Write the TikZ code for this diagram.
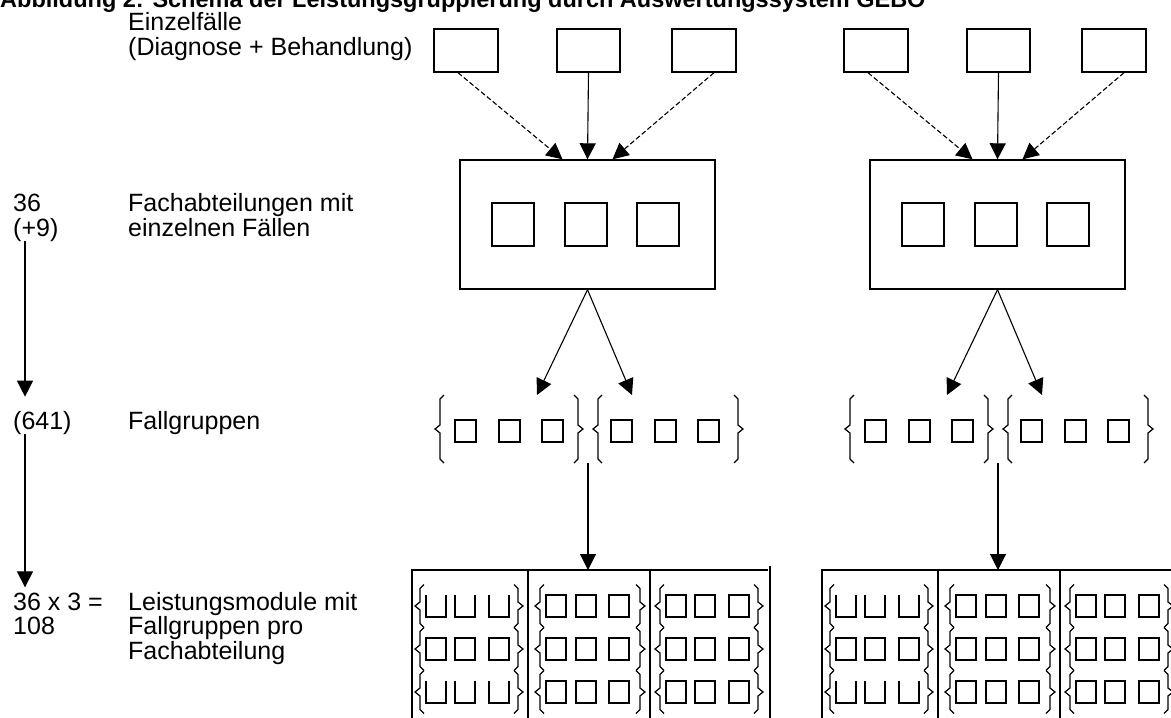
\documentclass[tikz,border=0pt]{standalone}
\usepackage{fontspec}
\setmainfont{Liberation Sans}
\usetikzlibrary{arrows.meta,calc}

% small curly braces drawn as polylines: tip x, top y, bottom y
\newcommand\LBr[3]{\draw[br] (#1+9,#2) -- (#1+5,#2+4) -- (#1+5,{(#2+#3)/2-4}) -- (#1,{(#2+#3)/2}) -- (#1+5,{(#2+#3)/2+4}) -- (#1+5,#3-4) -- (#1+9,#3);}
\newcommand\RBr[3]{\draw[br] (#1-9,#2) -- (#1-5,#2+4) -- (#1-5,{(#2+#3)/2-4}) -- (#1,{(#2+#3)/2}) -- (#1-5,{(#2+#3)/2+4}) -- (#1-5,#3-4) -- (#1-9,#3);}

\tikzset{
  lbl/.style={anchor=base west, inner sep=0pt, font=\fontsize{25}{25}\selectfont},
  case/.style={draw, line width=1.4pt, minimum width=64pt, minimum height=43pt, inner sep=0pt},
  dept/.style={draw, line width=1.4pt, minimum width=255pt, minimum height=129pt, inner sep=0pt},
  cell/.style={draw, line width=1.4pt, minimum width=42pt, minimum height=43pt, inner sep=0pt},
  grp/.style={draw, line width=1.4pt, minimum width=21pt, minimum height=22pt, inner sep=0pt},
  link/.style={-{Triangle[length=16pt,width=16pt]}, line width=1.1pt},
  dlink/.style={link, dash pattern=on 5pt off 2.5pt},
  br/.style={line width=1.2pt},
  grid/.style={line width=1.4pt},
}

\begin{document}
\begin{tikzpicture}[x=1pt, y=-1pt]
\fill[white] (0,0) rectangle (1171,718);
\useasboundingbox (0,0) rectangle (1171,718);

% heading (cut by the top edge)
\node[anchor=base west, inner sep=0pt, font=\bfseries\fontsize{23.5}{23.5}\selectfont] (title) at (0,7)
  {Abbildung 2: Schema der Leistungsgruppierung durch Auswertungssystem GEBO};

% row captions
\node[lbl] (tE)  at (128,30)  {Einzelfälle};
\node[lbl] (tD)  at (128,55)  {(Diagnose + Behandlung)};
\node[lbl] (tF1) at (128,211) {Fachabteilungen mit};
\node[lbl] (tF2) at (128,236) {einzelnen Fällen};
\node[lbl] (tG)  at (128,429) {Fallgruppen};
\node[lbl] (tL1) at (128,610) {Leistungsmodule mit};
\node[lbl] (tL2) at (128,634) {Fallgruppen pro};
\node[lbl] (tL3) at (128,659) {Fachabteilung};

% counts with the left-hand axis
\coordinate (axis) at (25,0);
\node[lbl] (n36)  at (13,211) {36};
\node[lbl] (n9)   at (13,236) {(+9)};
\node[lbl] (n641) at (13,429) {(641)};
\node[lbl] (n3)   at (13,610) {36 x 3 =};
\node[lbl] (n108) at (13,634) {108};
\draw[link] (n9.south -| axis) -- ($(n641.north -| axis)+(0,-14)$);
\draw[link] (n641.south -| axis) -- ($(n3.north -| axis)+(0,-5)$);

% two identical department trees
\foreach \o/\s in {0/a,410/b}{
  % single cases
  \node[case] (c1\s) at (466+\o,50.5) {};
  \node[case, minimum width=63pt] (c2\s) at (588.5+\o,50.5) {};
  \node[case] (c3\s) at (704+\o,50.5) {};
  % department with its cases
  \node[dept] (d\s) at (587.5+\o,224.5) {};
  \foreach \k/\xx in {1/513,2/586,3/658}
    \node[cell] (d\s-\k) at (\xx+\o,224.5) {};
  \draw[dlink] ($(c1\s.south)+(-8,0)$) -- ($(d\s.north)+(-25,0)$);
  \draw[link]  (c2\s.south) -- (d\s.north);
  \draw[dlink] ($(c3\s.south)+(10,0)$) -- ($(d\s.north)+(25,0)$);
  % case groups
  \coordinate (ga\s) at (537+\o,395);
  \coordinate (gb\s) at (632+\o,395);
  \draw[link] (d\s.south) -- (ga\s);
  \draw[link] (d\s.south) -- (gb\s);
  \foreach \k/\xx in {1/465.5,2/509.5,3/552.5,4/621.5,5/665.5,6/708.5}
    \node[grp] (g\s-\k) at (\xx+\o,431) {};
  \LBr{435+\o}{395}{463}
  \RBr{583+\o}{395}{463}
  \LBr{593+\o}{395}{463}
  \RBr{743+\o}{395}{463}
  \coordinate (j\s) at (588+\o,463);
  \coordinate (m\s) at (588+\o,570);
  \draw[link] (j\s) -- (m\s);
  % service modules
  \draw[grid] (412+\o,718) -- (412+\o,570) -- (768+\o,570);
  \draw[grid] (528+\o,570) -- (528+\o,718);
  \draw[grid] (650+\o,570) -- (650+\o,718);
  \draw[grid] (770+\o,566) -- (770+\o,718);
  \foreach \L/\a/\b/\c/\lb/\rb/\col in {412/24/53/87/3/111/1, 528/28/58/91/7/117/2, 650/26/55/89/5/113/3}{
    \foreach \yc/\row in {606/1,649/2,692/3}{
      \LBr{\L+\lb+\o}{\yc-21.5}{\yc+21.5}
      \RBr{\L+\rb+\o}{\yc-21.5}{\yc+21.5}
      \foreach \xc in {\a,\b,\c}{
        \pgfmathtruncatemacro\open{(\col==1)*(\row!=2)}
        \ifnum\open=1
          \draw[grid] (\L+\xc+\o-10,\yc-11) -- (\L+\xc+\o-10,\yc+11) -- (\L+\xc+\o+10,\yc+11) -- (\L+\xc+\o+10,\yc-11);
        \else
          \draw[grid] (\L+\xc+\o-10,\yc-11) rectangle (\L+\xc+\o+10,\yc+11);
        \fi
      }
    }
  }
}
\end{tikzpicture}
\end{document}
